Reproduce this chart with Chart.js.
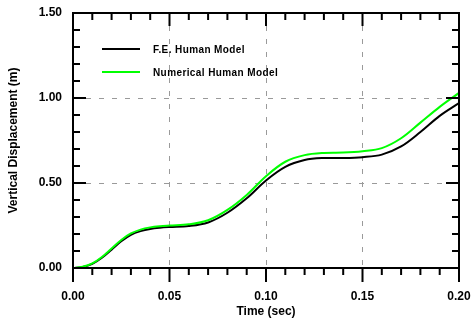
<!DOCTYPE html>
<html>
<head>
<meta charset="utf-8">
<script src="https://cdn.jsdelivr.net/npm/chart.js@4"></script>
<style>
  html, body { margin: 0; padding: 0; background: #fff; }
</style>
</head>
<body>
<canvas id="dispChart" width="474" height="324"></canvas>
<script>
// values
const timeSec  = [0, 0.005, 0.01, 0.015, 0.02, 0.025, 0.03, 0.035, 0.04, 0.045, 0.05, 0.06, 0.07, 0.08, 0.09, 0.10, 0.11, 0.12, 0.13, 0.14, 0.15, 0.16, 0.17, 0.18, 0.19, 0.20];
const feModel  = [0, 0.006, 0.024, 0.060, 0.108, 0.157, 0.195, 0.217, 0.230, 0.237, 0.241, 0.247, 0.268, 0.325, 0.410, 0.515, 0.595, 0.635, 0.647, 0.647, 0.652, 0.667, 0.715, 0.800, 0.895, 0.970];
const numModel = [0, 0.007, 0.027, 0.065, 0.115, 0.165, 0.203, 0.226, 0.239, 0.246, 0.250, 0.257, 0.281, 0.342, 0.430, 0.540, 0.625, 0.664, 0.677, 0.679, 0.687, 0.705, 0.763, 0.855, 0.948, 1.030];

const seriesNames  = ['F.E. Human Model', 'Numerical Human Model'];
const seriesColors = ['#000000', '#00ff00'];

const xTickValues = [0, 0.05, 0.10, 0.15, 0.20];
const yTickValues = [0, 0.50, 1.00, 1.50];
const xMinorStep = 0.01;
const yMinorStep = 0.1;

const FONT = 'Liberation Sans, Arial, sans-serif';

// frame, inward/outward tick marks and the legend box inside the plot
const frameTicks = {
  id: 'frameTicks',
  afterDraw(chart) {
    const { ctx, chartArea: a, scales: { x, y } } = chart;
    ctx.save();
    ctx.strokeStyle = '#000';
    ctx.lineWidth = 2;
    ctx.lineCap = 'butt';
    ctx.strokeRect(a.left, a.top, a.right - a.left, a.bottom - a.top);

    ctx.beginPath();
    const nx = Math.round((x.max - x.min) / xMinorStep);
    for (let i = 0; i <= nx; i++) {
      const v = x.min + i * xMinorStep;
      const px = x.getPixelForValue(v);
      const major = i % 5 === 0;
      ctx.moveTo(px, a.bottom); ctx.lineTo(px, a.bottom + (major ? 14 : 7));
      ctx.moveTo(px, a.top);    ctx.lineTo(px, a.top + (major ? 13 : 7));
    }
    const ny = Math.round((y.max - y.min) / yMinorStep);
    for (let i = 0; i <= ny; i++) {
      const v = y.min + i * yMinorStep;
      const py = y.getPixelForValue(v);
      const major = i % 5 === 0;
      ctx.moveTo(a.left, py);  ctx.lineTo(a.left + (major ? 13 : 7), py);
      ctx.moveTo(a.right, py); ctx.lineTo(a.right - (major ? 13 : 7), py);
    }
    ctx.stroke();

    // legend
    ctx.font = 'bold 10px ' + FONT;
    ctx.letterSpacing = '0.4px';
    ctx.textBaseline = 'middle';
    ctx.textAlign = 'left';
    chart.data.datasets.forEach((ds, i) => {
      const ly = a.top + 36 + i * 23;
      ctx.strokeStyle = ds.borderColor;
      ctx.lineWidth = 2;
      ctx.beginPath();
      ctx.moveTo(a.left + 29, ly);
      ctx.lineTo(a.left + 67, ly);
      ctx.stroke();
      ctx.fillStyle = '#000';
      ctx.fillText(ds.label, a.left + 80, ly + 1);
    });
    ctx.restore();
  }
};

const edgeClear = (ctx) => {
  const n = ctx.scale.ticks.length;
  return (ctx.index === 0 || ctx.index === n - 1) ? 'rgba(0,0,0,0)' : '#9a9a9a';
};

new Chart(document.getElementById('dispChart').getContext('2d'), {
  type: 'line',
  data: {
    datasets: [
      {
        label: seriesNames[0],
        data: timeSec.map((t, i) => ({ x: t, y: feModel[i] })),
        borderColor: seriesColors[0],
        borderWidth: 2,
        pointRadius: 0,
        tension: 0.35,
        order: 1
      },
      {
        label: seriesNames[1],
        data: timeSec.map((t, i) => ({ x: t, y: numModel[i] })),
        borderColor: seriesColors[1],
        borderWidth: 2,
        pointRadius: 0,
        tension: 0.35,
        order: 0
      }
    ]
  },
  options: {
    responsive: false,
    animation: false,
    devicePixelRatio: 1,
    layout: { padding: { top: 13, right: 15, left: 0, bottom: 0 } },
    plugins: {
      legend: { display: false },
      tooltip: { enabled: false }
    },
    scales: {
      x: {
        type: 'linear',
        min: 0,
        max: 0.2,
        afterBuildTicks: s => { s.ticks = xTickValues.map(v => ({ value: v })); },
        afterFit: s => { s.height = 56; s.paddingLeft = 0; s.paddingRight = 0; },
        ticks: {
          padding: 21,
          color: '#000',
          font: { family: FONT, size: 12, weight: 'bold' },
          maxRotation: 0,
          callback: v => Number(v).toFixed(2)
        },
        grid: { drawTicks: false, color: edgeClear, lineWidth: 1 },
        border: { display: false, dash: [5, 8] },
        title: {
          display: true,
          text: 'Time (sec)',
          color: '#000',
          font: { family: FONT, size: 12, weight: 'bold' },
          padding: { top: 0, bottom: 5 }
        }
      },
      y: {
        min: 0,
        max: 1.5,
        afterBuildTicks: s => { s.ticks = yTickValues.map(v => ({ value: v })); },
        afterFit: s => { s.width = 73; s.paddingTop = 0; s.paddingBottom = 0; },
        ticks: {
          padding: 11,
          color: '#000',
          font: { family: FONT, size: 12, weight: 'bold' },
          callback: v => Number(v).toFixed(2)
        },
        grid: { drawTicks: false, color: edgeClear, lineWidth: 1 },
        border: { display: false, dash: [5, 8] },
        title: {
          display: true,
          text: 'Vertical Displacement (m)',
          color: '#000',
          font: { family: FONT, size: 12, weight: 'bold' },
          padding: { top: 6, bottom: 0 }
        }
      }
    }
  },
  plugins: [frameTicks]
});
</script>
</body>
</html>
